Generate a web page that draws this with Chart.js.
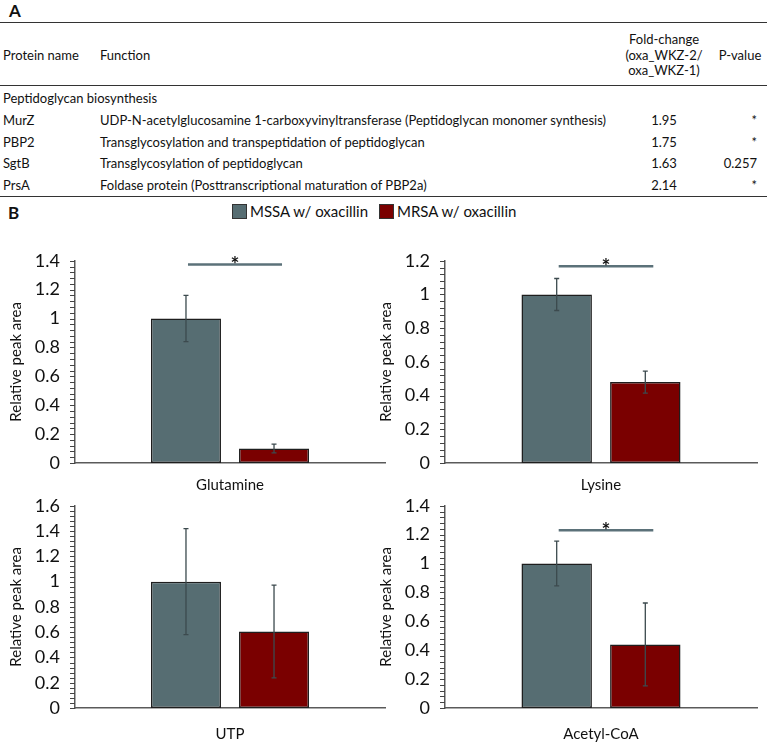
<!DOCTYPE html>
<html>
<head>
<meta charset="utf-8">
<script src="https://cdn.jsdelivr.net/npm/chart.js@4.4.0/dist/chart.umd.min.js"></script>
<style>
  body { margin: 0; background: #fff; font-family: Lato, 'Open Sans', sans-serif; color: #111; }
  #pagina { position: relative; width: 767px; height: 742px; overflow: hidden; }
  .abs { position: absolute; white-space: nowrap; }
  .celda { position: absolute; white-space: nowrap; font-size: 13px; line-height: 16px; }
  .regla { position: absolute; left: 0; width: 767px; height: 0; border-top: 1.5px solid #333; }
  canvas { position: absolute; }
</style>
</head>
<body>
<div id="pagina">
  <div class="abs" style="left:9px;top:0px;font-weight:bold;font-size:17px">A</div>
  <div class="regla" style="top:22px"></div>
  <div class="regla" style="top:85px"></div>
  <div class="regla" style="top:196px"></div>
  <div id="tabla"></div>
  <div class="abs" style="left:8px;top:202px;font-weight:bold;font-size:17px">B</div>
  <div id="leyenda"></div>
  <canvas id="g0" width="395" height="262" style="left:0;top:240px"></canvas>
  <canvas id="g1" width="397" height="262" style="left:370px;top:240px"></canvas>
  <canvas id="g2" width="395" height="257" style="left:0;top:485px"></canvas>
  <canvas id="g3" width="397" height="257" style="left:370px;top:485px"></canvas>
</div>
<script>
//Datos de la tabla (A)
let proteinas = ['MurZ', 'PBP2', 'SgtB', 'PrsA'];
let funciones = [
  'UDP-N-acetylglucosamine 1-carboxyvinyltransferase (Peptidoglycan monomer synthesis)',
  'Transglycosylation and transpeptidation of peptidoglycan',
  'Transglycosylation of peptidoglycan',
  'Foldase protein (Posttranscriptional maturation of PBP2a)'
];
let cambios = ['1.95', '1.75', '1.63', '2.14'];
let valoresP = ['*', '*', '0.257', '*'];

//Datos de las graficas (B)
let categorias = ['Glutamine', 'Lysine', 'UTP', 'Acetyl-CoA'];
let series = ['MSSA w/ oxacillin', 'MRSA w/ oxacillin'];
let colores = ['#566d72', '#7a0000'];
let valoresMSSA = [1.0, 1.0, 1.0, 1.0];
let erroresMSSA = [0.16, 0.095, 0.42, 0.155];
let valoresMRSA = [0.10, 0.48, 0.605, 0.44];
let erroresMRSA = [0.03, 0.065, 0.367, 0.287];
let maximosY = [1.4, 1.2, 1.6, 1.4];
let significancia = [1.375, 1.168, null, 1.231];

//Tabla
let tabla = document.getElementById('tabla');
function celda(texto, x, y, alinear) {
  let d = document.createElement('div');
  d.className = 'celda';
  d.textContent = texto;
  d.style.top = (y - 8) + 'px';
  if (alinear === 'center') {
    d.style.left = (x - 100) + 'px';
    d.style.width = '200px';
    d.style.textAlign = 'center';
  } else if (alinear === 'right') {
    d.style.left = (x - 200) + 'px';
    d.style.width = '200px';
    d.style.textAlign = 'right';
  } else {
    d.style.left = x + 'px';
  }
  tabla.appendChild(d);
}
celda('Protein name', 3, 55);
celda('Function', 100, 55);
celda('Fold-change', 664, 39, 'center');
celda('(oxa_WKZ-2/', 664, 55, 'center');
celda('oxa_WKZ-1)', 664, 70, 'center');
celda('P-value', 740, 55, 'center');
celda('Peptidoglycan biosynthesis', 3, 98);
let filasY = [120, 142, 163, 185];
proteinas.forEach((p, i) => {
  celda(p, 3, filasY[i]);
  celda(funciones[i], 100, filasY[i]);
  celda(cambios[i], 664, filasY[i], 'center');
  celda(valoresP[i], 757, filasY[i], 'right');
});

//Leyenda
let leyenda = document.getElementById('leyenda');
let posLeyenda = [232, 379];
series.forEach((s, i) => {
  let caja = document.createElement('div');
  caja.className = 'abs';
  caja.style.cssText += 'left:' + posLeyenda[i] + 'px;top:204px;width:13px;height:13px;border:1px solid #333;background:' + colores[i];
  leyenda.appendChild(caja);
  let t = document.createElement('div');
  t.className = 'abs';
  t.textContent = s;
  t.style.cssText += 'left:' + (posLeyenda[i] + 18) + 'px;top:201px;font-size:15px;line-height:20px';
  leyenda.appendChild(t);
});

//Plugin para marcas del eje, barras de error y significancia
const barrasError = {
  id: 'barrasError',
  afterDraw(chart, args, opts) {
    const ctx = chart.ctx;
    const ejeY = chart.scales.y;
    const bordeX = chart.chartArea.left;
    ctx.save();
    //marcas menores del eje y
    ctx.strokeStyle = '#444';
    ctx.lineWidth = 1;
    ctx.beginPath();
    ejeY.ticks.forEach(t => {
      const py = Math.round(ejeY.getPixelForValue(t.value)) + 0.5;
      ctx.moveTo(bordeX - 5, py);
      ctx.lineTo(bordeX, py);
    });
    ctx.stroke();
    //barras de error
    chart.data.datasets.forEach((ds, i) => {
      const meta = chart.getDatasetMeta(i);
      meta.data.forEach((barra, j) => {
        const v = ds.data[j];
        const e = ds.errores[j];
        const arriba = ejeY.getPixelForValue(v + e);
        const abajo = ejeY.getPixelForValue(v - e);
        ctx.strokeStyle = '#3c4a4e';
        ctx.lineWidth = 1.3;
        ctx.beginPath();
        ctx.moveTo(barra.x, arriba); ctx.lineTo(barra.x, abajo);
        ctx.moveTo(barra.x - 2.5, arriba); ctx.lineTo(barra.x + 2.5, arriba);
        ctx.moveTo(barra.x - 2.5, abajo); ctx.lineTo(barra.x + 2.5, abajo);
        ctx.stroke();
      });
    });
    //linea de significancia
    if (opts.nivel != null) {
      const b0 = chart.getDatasetMeta(0).data[0];
      const b1 = chart.getDatasetMeta(1).data[0];
      const py = ejeY.getPixelForValue(opts.nivel);
      const x0 = b0.x + 2, x1 = b1.x + 8;
      ctx.strokeStyle = '#5b7179';
      ctx.lineWidth = 2.5;
      ctx.beginPath();
      ctx.moveTo(x0, py); ctx.lineTo(x1, py);
      ctx.stroke();
      ctx.fillStyle = '#111';
      ctx.font = 'bold 21px Lato';
      ctx.textAlign = 'center';
      ctx.textBaseline = 'alphabetic';
      ctx.fillText('*', (x0 + x1) / 2, py + 8);
    }
    ctx.restore();
  }
};

Chart.defaults.font.family = 'Lato';
Chart.defaults.color = '#111';

function crearGrafico(id, k, altoX, sepX) {
  new Chart(document.getElementById(id), {
    type: 'bar',
    data: {
      labels: [categorias[k]],
      datasets: [
        {
          label: series[0],
          data: [valoresMSSA[k]],
          errores: [erroresMSSA[k]],
          backgroundColor: colores[0],
          borderColor: '#1e1e1e',
          borderWidth: 1.5,
          borderSkipped: false
        },
        {
          label: series[1],
          data: [valoresMRSA[k]],
          errores: [erroresMRSA[k]],
          backgroundColor: colores[1],
          borderColor: '#1e1e1e',
          borderWidth: 1.5,
          borderSkipped: false
        }
      ]
    },
    options: {
      responsive: false,
      animation: false,
      categoryPercentage: 0.568,
      barPercentage: 0.795,
      layout: { padding: { top: 10, right: 10 } },
      plugins: {
        legend: { display: false },
        tooltip: { enabled: false },
        barrasError: { nivel: significancia[k] }
      },
      scales: {
        x: {
          grid: { display: false, drawTicks: false },
          border: { display: true, color: '#5a5a5a', width: 1.5 },
          ticks: { font: { size: 15 }, padding: sepX },
          afterFit(s) { s.height = altoX; }
        },
        y: {
          min: 0,
          max: maximosY[k],
          afterFit(s) { s.width = 75; },
          ticks: {
            stepSize: 0.04,
            autoSkip: false,
            padding: 10,
            font: { size: 18 },
            callback(v) {
              const r = Math.round(v / 0.2);
              if (Math.abs(v - r * 0.2) > 1e-6) return '';
              return String(Math.round(r * 2) / 10);
            }
          },
          grid: { display: false, drawTicks: true, tickLength: 5 },
          border: { display: true, color: '#5a5a5a', width: 1.5 },
          title: { display: true, text: 'Relative peak area', font: { size: 15 }, padding: { top: 7, bottom: 0 } }
        }
      }
    },
    plugins: [barrasError]
  });
}

crearGrafico('g0', 0, 39, 13);
crearGrafico('g1', 1, 39, 13);
crearGrafico('g2', 2, 34, 17);
crearGrafico('g3', 3, 34, 17);
</script>
</body>
</html>
